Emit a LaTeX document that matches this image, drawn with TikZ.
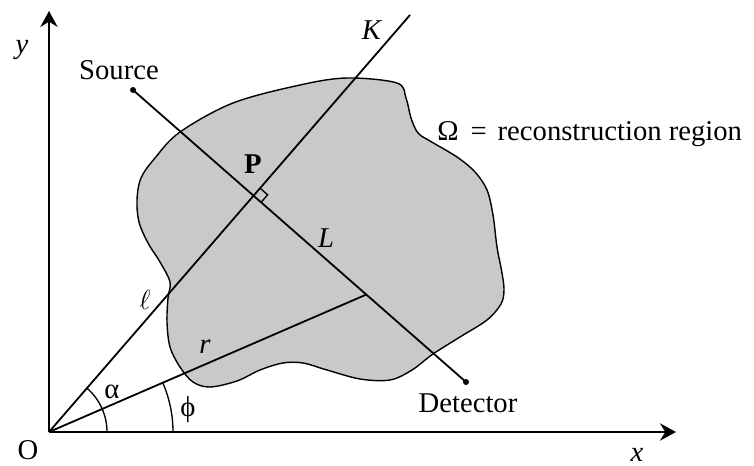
\documentclass[tikz,border=0pt]{standalone}
\usepackage{fontspec}
\setmainfont{Liberation Serif}
\usetikzlibrary{arrows.meta,calc}
\begin{document}
\begin{tikzpicture}[x=0.75pt,y=-0.75pt,
  font=\fontsize{21.5}{25}\selectfont,
  axis/.style={line width=1.5pt,-{Stealth[length=12pt,width=13pt,inset=4pt]}},
  ray/.style={line width=1.35pt},
  region/.style={draw=black,line width=1.05pt,fill=black!21},
  lbl/.style={inner sep=0pt}]
\useasboundingbox (0,0) rectangle (754,466);
% region Omega
\draw[region] plot[smooth cycle,tension=0.55] coordinates {
 (347,78) (397,83) (406,98) (411,118) (418,133) (430,141) (457,157)
 (475,172) (487,190) (493,215) (497,247) (502,273) (504,290) (501,304)
 (487,320) (460,337) (433,354) (412,370) (390,380) (360,379) (327,370)
 (303,363) (283,363) (260,370) (237,381) (210,387) (193,382) (180,367)
 (170,347) (167,322) (168,298) (170,282) (160,262) (148,243) (139,222)
 (137,200) (141,178) (155,158) (180,132) (233,103) (300,85)};
% coordinates
\coordinate (O) at (49,432);
\coordinate (Xend) at (676,432);
\coordinate (Yend) at (49,11);
\coordinate (Kend) at (410,15);
\coordinate (S) at (133,90);
\coordinate (D) at (466,382);
\coordinate (R0) at (363,296);
\coordinate (P) at (intersection of O--Kend and S--D);
\coordinate (R) at (intersection of O--R0 and S--D);
% axes
\draw[axis] (O) -- (Xend);
\draw[axis] (O) -- (Yend);
% lines
\draw[ray] (O) -- (Kend);
\draw[ray] (S) -- (D);
\draw[ray] (O) -- (R);
\fill (S) circle[radius=3];
\fill (D) circle[radius=3];
% right angle mark
\coordinate (qa) at ($(P)!7.5pt!(D)$);
\coordinate (qb) at ($(P)!7.5pt!(Kend)$);
\coordinate (qc) at ($(qa)+(qb)-(P)$);
\draw[line width=1pt] (qa) -- (qc) -- (qb);
% angle arcs
\draw[line width=1pt] ($(O)+(58,0)$) arc[start angle=0,end angle=-49.1,radius=58];
\draw[line width=1pt] ($(O)+(124,0)$) arc[start angle=0,end angle=-23.4,radius=124];
% labels
\node[lbl] (ly) at (22,50) {\textit{y}};
\node[lbl] (lO) at (28,450) {O};
\node[lbl] (lx) at (637,455) {\textit{x}};
\node[lbl] (lK) at (372,30) {\textit{K}};
\node[lbl] (lS) at (119,70) {Source};
\node[lbl] (lP) at (253,164) {\textbf{P}};
\node[lbl] (lL) at (326,238) {\textit{L}};
\node[lbl,anchor=west] (lOm) at (437,134) {Ω\hspace{0.42em}=\hspace{0.38em}reconstruction region};
\node[lbl] (lD) at (468,403) {Detector};
\node[lbl] (lell) at (145,300) {$\ell$};
\node[lbl] (lr) at (205,347) {\textit{r}};
\node[lbl] (la) at (112,392) {α};
\node[lbl] (lphi) at (188,410) {ϕ};
\end{tikzpicture}
\end{document}
